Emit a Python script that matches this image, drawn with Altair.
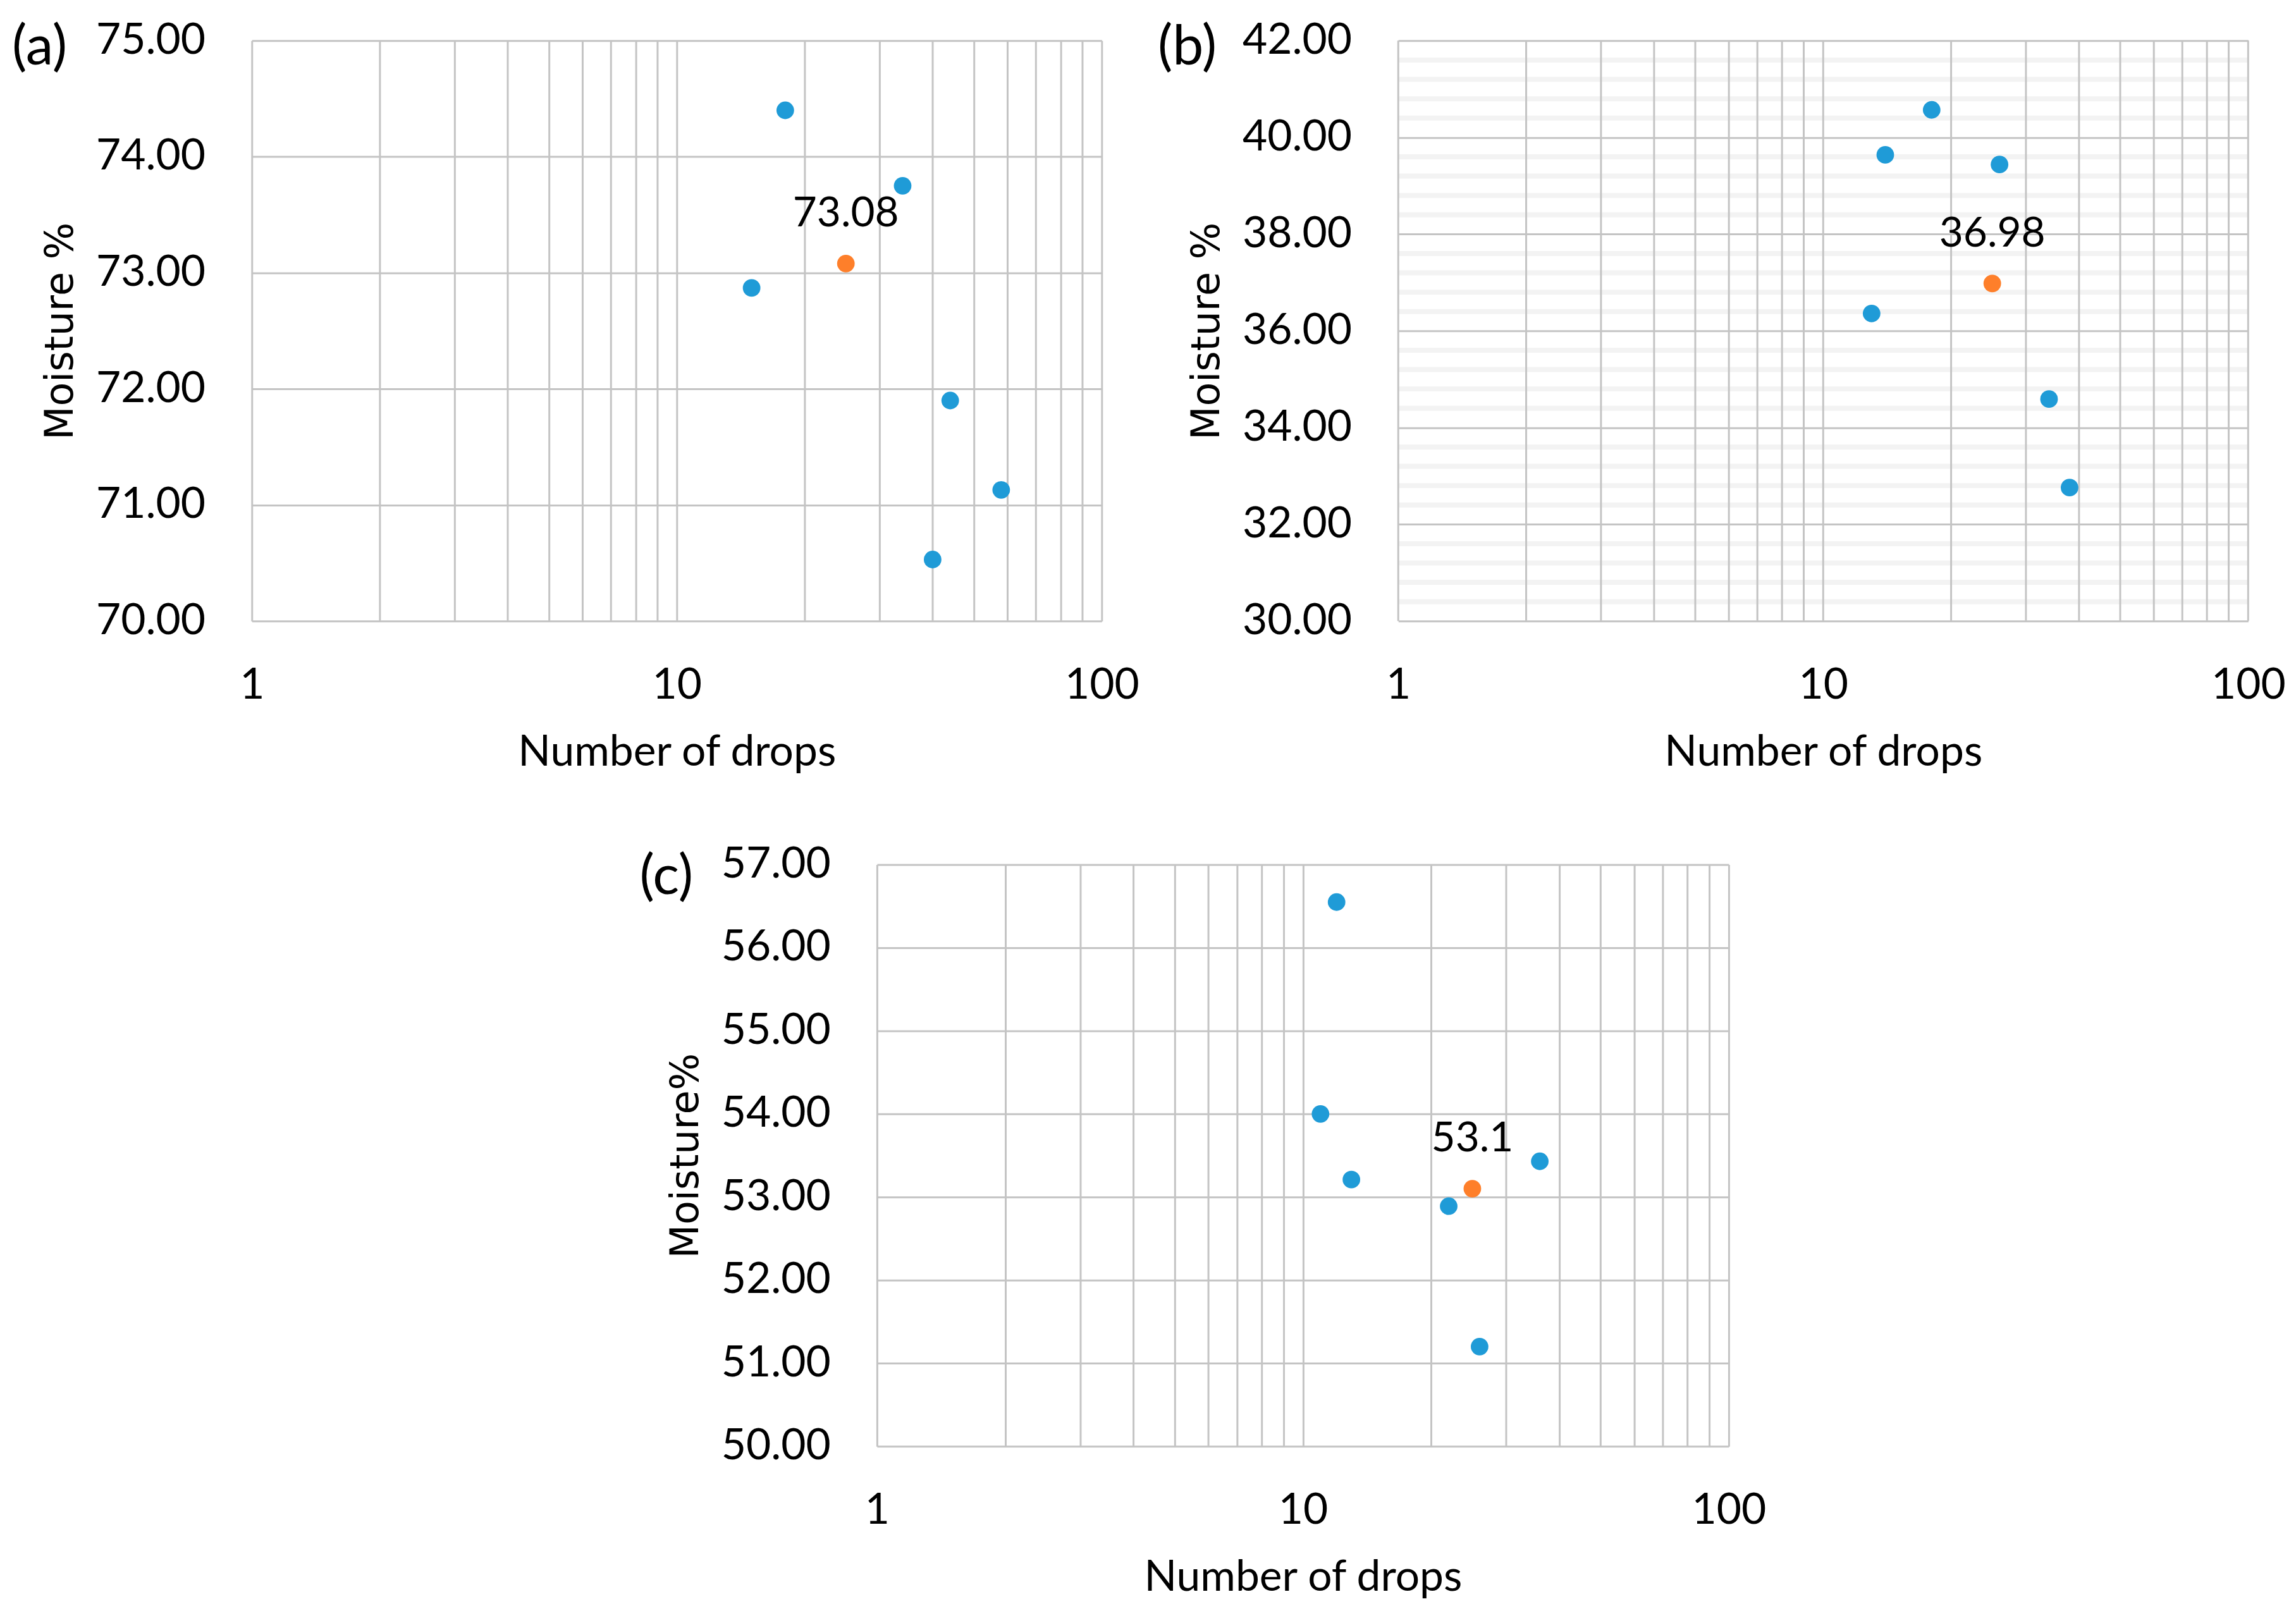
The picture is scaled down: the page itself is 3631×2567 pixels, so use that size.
import altair as alt
import pandas as pd

# ---------------- data ----------------
a_drops = [18, 34, 15, 44, 58, 40]
a_moist = [74.40, 73.75, 72.87, 71.90, 71.13, 70.53]
a_mean_drops, a_mean_moist, a_label = 25, 73.08, "73.08"

b_drops = [18, 14, 26, 13, 34, 38]
b_moist = [40.57, 39.64, 39.44, 36.36, 34.59, 32.76]
b_mean_drops, b_mean_moist, b_label = 25, 36.98, "36.98"

c_drops = [12, 11, 13, 22, 36, 26]
c_moist = [56.55, 54.00, 53.21, 52.89, 53.43, 51.20]
c_mean_drops, c_mean_moist, c_label = 25, 53.1, "53.1"

x_ticks = [1, 2, 3, 4, 5, 6, 7, 8, 9, 10, 20, 30, 40, 50, 60, 70, 80, 90, 100]
a_yticks = [70, 71, 72, 73, 74, 75]
b_yticks = [30, 32, 34, 36, 38, 40, 42]
c_yticks = [50, 51, 52, 53, 54, 55, 56, 57]
b_minor = [30.4, 30.8, 31.2, 31.6, 32.4, 32.8, 33.2, 33.6, 34.4, 34.8, 35.2, 35.6,
           36.4, 36.8, 37.2, 37.6, 38.4, 38.8, 39.2, 39.6, 40.4, 40.8, 41.2, 41.6]

BLUE = "#1f9bd7"
ORANGE = "#fe7f2a"
GRID = "#c4c4c4"
FONT = "Lato"
YFONT = "DejaVu Sans"


def panel(drops, moist, mdrops, mmoist, label, letter, ydomain, yticks, ytitle,
          letter_x, letter_y, w, h, minor=None):
    df = pd.DataFrame({
        "drops": drops + [mdrops],
        "moist": moist + [mmoist],
        "kind": ["sample"] * len(drops) + ["mean"],
    })
    xscale = alt.Scale(type="log", domain=[1, 100], nice=False)
    yscale = alt.Scale(domain=ydomain, nice=False, zero=False)
    xaxis = alt.Axis(
        values=x_ticks,
        labelExpr="(datum.value == 1 || datum.value == 10 || datum.value == 100) ? format(datum.value, 'd') : ''",
        grid=(minor is None), gridColor=GRID, gridWidth=3,
        domain=False, ticks=False, tickSize=0,
        labelFont=FONT, labelFontSize=68, labelColor="#000000",
        labelPadding=69, labelFlush=False, labelOverlap=False,
        titleFont=FONT, titleFontSize=68, titleFontWeight="normal", titleColor="#000000",
        titleY=229, titleBaseline="alphabetic",
    )
    yaxis = alt.Axis(
        values=yticks, format=".2f",
        grid=True, gridColor=GRID, gridWidth=3,
        domain=False, ticks=False, tickSize=0,
        labelFont=FONT, labelFontSize=68, labelColor="#000000", labelPadding=74,
        labelFlush=False, labelOverlap=False,
        titleFont=YFONT, titleFontSize=62, titleFontWeight="normal", titleColor="#000000",
        titleX=-304, titleY=h / 2, titleAngle=270, titleAlign="center",
        titleBaseline="middle",
    )
    X = alt.X("drops:Q", scale=xscale, axis=xaxis, title="Number of drops")
    Y = alt.Y("moist:Q", scale=yscale, axis=yaxis, title=ytitle)
    layers = []
    if minor is not None:
        layers.append(
            alt.Chart(pd.DataFrame({"moist": minor}))
            .mark_rule(color="#f3f3f3", strokeWidth=8)
            .encode(y=Y)
        )
        layers.append(
            alt.Chart(pd.DataFrame({"drops": x_ticks}))
            .mark_rule(color=GRID, strokeWidth=3)
            .encode(x=X)
        )
    points = alt.Chart(df).mark_circle(size=780, opacity=1).encode(
        x=X,
        y=Y,
        color=alt.Color("kind:N", scale=alt.Scale(domain=["sample", "mean"], range=[BLUE, ORANGE]),
                        legend=None),
    )
    layers.append(points)
    lab = alt.Chart(pd.DataFrame({"drops": [mdrops], "moist": [mmoist], "t": [label]})).mark_text(
        dy=-59, baseline="alphabetic", align="center", font=FONT, fontSize=66, color="#000000"
    ).encode(x=X, y=Y, text="t:N")
    layers.append(lab)
    let = alt.Chart(pd.DataFrame({"t": [letter]})).mark_text(
        align="left", baseline="middle", font=FONT, fontSize=88, color="#000000"
    ).encode(x=alt.value(letter_x), y=alt.value(letter_y), text="t:N")
    layers.append(let)
    return alt.layer(*layers).properties(width=w, height=h)


pa = panel(a_drops, a_moist, a_mean_drops, a_mean_moist, a_label, "(a)", [70, 75], a_yticks,
           "Moisture %", -381, 12, 1350, 922)
pb = panel(b_drops, b_moist, b_mean_drops, b_mean_moist, b_label, "(b)", [30, 42], b_yticks,
           "Moisture %", -382, 12, 1350, 922, minor=b_minor)
pc = panel(c_drops, c_moist, c_mean_drops, c_mean_moist, c_label, "(c)", [50, 57], c_yticks,
           "Moisture%", -377, 21, 1353, 924)

spacer = alt.Chart(pd.DataFrame({"s": [0]})).mark_point(opacity=0).encode(
    x=alt.X("s:Q", axis=None), y=alt.Y("s:Q", axis=None)
).properties(width=993, height=10)

top = alt.hconcat(pa, pb, spacing=471, bounds="flush")
bottom = alt.hconcat(spacer, pc, spacing=0, bounds="flush")

# nested concat rows count as zero height under flush bounds, so the row
# spacing below is the full distance from the top of row 1 to the top of row 2
chart = alt.vconcat(top, bottom, spacing=1309, bounds="flush").properties(
    padding={"left": 11, "top": 17, "right": 8, "bottom": 8},
    background="white",
).configure_view(stroke=None)

chart.save("out.html", embed_options={"renderer": "svg", "actions": False})
